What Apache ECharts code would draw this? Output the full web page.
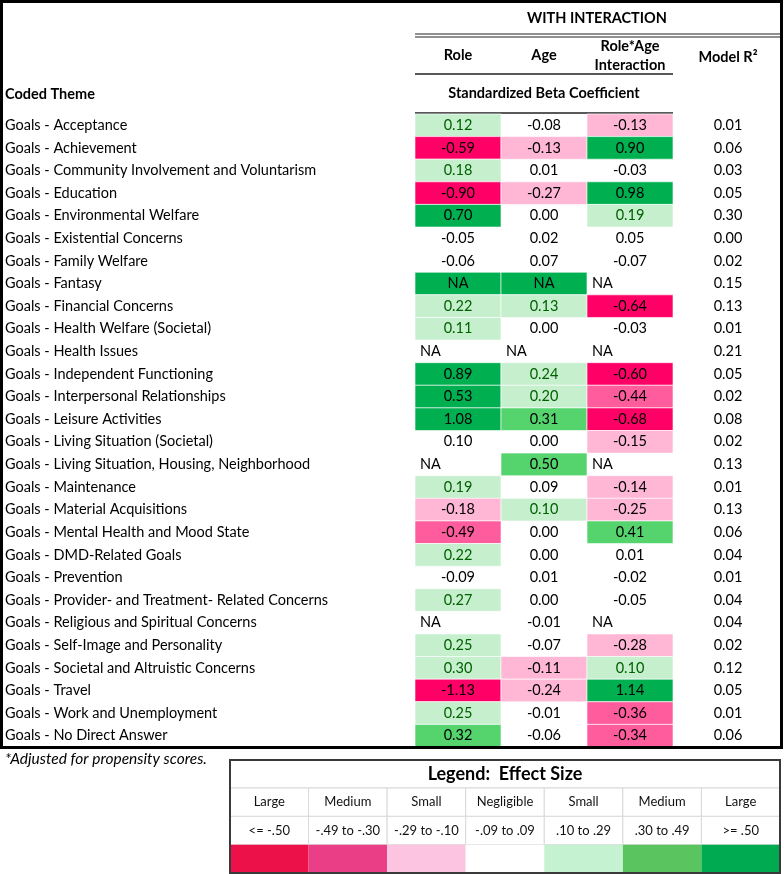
<!DOCTYPE html>
<html lang="en">
<head>
    <meta charset="UTF-8">
    <title>Coded Theme - Standardized Beta Coefficient</title>
    <script src="https://cdn.jsdelivr.net/npm/echarts@6/dist/echarts.min.js"></script>
    <style>
        html, body { margin: 0; padding: 0; background: #fff; }
        #chart { width: 784px; height: 874px; }
    </style>
</head>
<body>
<div id="chart"></div>
<script>
    // table rows
    var themes = [
        'Goals - Acceptance',
        'Goals - Achievement',
        'Goals - Community Involvement and Voluntarism',
        'Goals - Education',
        'Goals - Environmental Welfare',
        'Goals - Existential Concerns',
        'Goals - Family Welfare',
        'Goals - Fantasy',
        'Goals - Financial Concerns',
        'Goals - Health Welfare (Societal)',
        'Goals - Health Issues',
        'Goals - Independent Functioning',
        'Goals - Interpersonal Relationships',
        'Goals - Leisure Activities',
        'Goals - Living Situation (Societal)',
        'Goals - Living Situation, Housing, Neighborhood',
        'Goals - Maintenance',
        'Goals - Material Acquisitions',
        'Goals - Mental Health and Mood State',
        'Goals - DMD-Related Goals',
        'Goals - Prevention',
        'Goals - Provider- and Treatment- Related Concerns',
        'Goals - Religious and Spiritual Concerns',
        'Goals - Self-Image and Personality',
        'Goals - Societal and Altruistic Concerns',
        'Goals - Travel',
        'Goals - Work and Unemployment',
        'Goals - No Direct Answer'
    ];
    var betaColumns = ['Role', 'Age', 'Role*Age Interaction'];

    var roleBeta = [0.12, -0.59, 0.18, -0.90, 0.70, -0.05, -0.06, 'NA', 0.22, 0.11, 'NA', 0.89, 0.53, 1.08,
        0.10, 'NA', 0.19, -0.18, -0.49, 0.22, -0.09, 0.27, 'NA', 0.25, 0.30, -1.13, 0.25, 0.32];
    var ageBeta = [-0.08, -0.13, 0.01, -0.27, 0.00, 0.02, 0.07, 'NA', 0.13, 0.00, 'NA', 0.24, 0.20, 0.31,
        0.00, 0.50, 0.09, 0.10, 0.00, 0.00, 0.01, 0.00, -0.01, -0.07, -0.11, -0.24, -0.01, -0.06];
    var interactionBeta = [-0.13, 0.90, -0.03, 0.98, 0.19, 0.05, -0.07, 'NA', -0.64, -0.03, 'NA', -0.60, -0.44, -0.68,
        -0.15, 'NA', -0.14, -0.25, 0.41, 0.01, -0.02, -0.05, 'NA', -0.28, 0.10, 1.14, -0.36, -0.34];
    var modelR2 = [0.01, 0.06, 0.03, 0.05, 0.30, 0.00, 0.02, 0.15, 0.13, 0.01, 0.21, 0.05, 0.02, 0.08,
        0.02, 0.13, 0.01, 0.13, 0.06, 0.04, 0.01, 0.04, 0.04, 0.02, 0.12, 0.05, 0.01, 0.06];

    // shading used in the table: -3 large neg ... 0 none ... 3 large pos
    var roleShade = [1, -3, 1, -3, 3, 0, 0, 3, 1, 1, 0, 3, 3, 3, 0, 0, 1, -1, -2, 1, 0, 1, 0, 1, 1, -3, 1, 2];
    var ageShade = [0, -1, 0, -1, 0, 0, 0, 3, 1, 0, 0, 1, 1, 2, 0, 2, 0, 1, 0, 0, 0, 0, 0, 0, -1, -1, 0, 0];
    var interactionShade = [-1, 3, 0, 3, 1, 0, 0, 0, -3, 0, 0, -3, -2, -3, -1, 0, -1, -1, 2, 0, 0, 0, 0, -1, 1, 3, -2, -2];

    // legend
    var legendLabels = ['Large', 'Medium', 'Small', 'Negligible', 'Small', 'Medium', 'Large'];
    var legendRanges = ['<= -.50', '-.49 to -.30', '-.29 to -.10', '-.09 to .09', '.10 to .29', '.30 to .49', '>= .50'];
    var legendColors = ['#ec1249', '#ea3f86', '#fdc4e1', '#ffffff', '#c5f2d1', '#5ac55e', '#00aa50'];

    var shadeFill = {'-3': '#ff0066', '-2': '#ff5c9e', '-1': '#ffb7d5', '0': null, '1': '#c6efce', '2': '#55d46e', '3': '#00b050'};

    var FONT = 'Lato';
    var FS = 14.5;

    var chart = echarts.init(document.getElementById('chart'));

    // build cell lists
    var betaCells = [];
    [roleBeta, ageBeta, interactionBeta].forEach(function (col, ci) {
        var shades = [roleShade, ageShade, interactionShade][ci];
        for (var r = 0; r < col.length; r++) {
            betaCells.push({
                col: ci, row: r,
                text: col[r] === 'NA' ? 'NA' : col[r].toFixed(2),
                shade: shades[r]
            });
        }
    });
    var r2Cells = modelR2.map(function (v, r) { return {col: 0, row: r, text: v.toFixed(2)}; });

    var legendCells = [];
    for (var i = 0; i < legendLabels.length; i++) {
        legendCells.push({col: i, row: 0, text: legendLabels[i]});
        legendCells.push({col: i, row: 1, text: legendRanges[i]});
        legendCells.push({col: i, row: 2, fill: legendColors[i]});
    }

    function betaItem(params, api) {
        var cell = betaCells[params.dataIndex];
        var p = api.coord([api.value(0), api.value(1)]);
        var s = api.size([1, 1]);
        var fill = shadeFill[String(cell.shade)];
        // plain NA cells sit on the left, shaded ones are centred
        var leftNA = cell.text === 'NA' && !fill;
        var children = [];
        if (fill) {
            children.push({
                type: 'rect',
                shape: {x: p[0] - s[0] / 2, y: p[1] - s[1] / 2, width: s[0], height: s[1]},
                style: {fill: fill, stroke: '#ffffff', lineWidth: 0.6}
            });
        }
        children.push({
            type: 'text',
            style: {
                text: cell.text,
                x: leftNA ? p[0] - s[0] / 2 + 5 : p[0],
                y: p[1],
                align: leftNA ? 'left' : 'center',
                verticalAlign: 'middle',
                fill: cell.shade === 1 ? '#006100' : '#000000',
                font: FS + 'px ' + FONT
            }
        });
        return {type: 'group', children: children};
    }

    function r2Item(params, api) {
        var cell = r2Cells[params.dataIndex];
        var p = api.coord([api.value(0), api.value(1)]);
        return {
            type: 'text',
            style: {
                text: cell.text, x: p[0], y: p[1],
                align: 'center', verticalAlign: 'middle',
                fill: '#000', font: FS + 'px ' + FONT
            }
        };
    }

    function legendItem(params, api) {
        var cell = legendCells[params.dataIndex];
        var p = api.coord([api.value(0), api.value(1)]);
        var s = api.size([1, 1]);
        var box = {x: p[0] - s[0] / 2, y: p[1] - s[1] / 2, width: s[0], height: s[1]};
        if (cell.fill) {
            return {type: 'rect', shape: box, style: {fill: cell.fill}};
        }
        return {
            type: 'group',
            children: [
                {type: 'rect', shape: box, style: {fill: '#fff', stroke: '#d9d9d9', lineWidth: 1}},
                {
                    type: 'text',
                    style: {
                        text: cell.text, x: p[0], y: p[1],
                        align: 'center', verticalAlign: 'middle',
                        fill: '#111', font: '13px ' + FONT
                    }
                }
            ]
        };
    }

    var hidden = {show: false};

    var option = {
        animation: false,
        backgroundColor: '#ffffff',
        grid: [
            {left: 415, top: 114, width: 258, height: 633},
            {left: 673, top: 114, width: 110, height: 633},
            {left: 230, top: 788, width: 550, height: 85}
        ],
        xAxis: [
            {gridIndex: 0, type: 'category', data: betaColumns, axisLine: hidden, axisTick: hidden, axisLabel: hidden},
            {gridIndex: 1, type: 'category', data: ['Model R²'], axisLine: hidden, axisTick: hidden, axisLabel: hidden},
            {gridIndex: 2, type: 'category', data: legendLabels.map(function (l, i) { return i; }), axisLine: hidden, axisTick: hidden, axisLabel: hidden}
        ],
        yAxis: [
            {
                gridIndex: 0, type: 'category', data: themes, inverse: true,
                axisLine: hidden, axisTick: hidden, splitLine: hidden,
                axisLabel: {
                    show: true, interval: 0, align: 'left', margin: 410,
                    color: '#000', fontFamily: FONT, fontSize: FS
                }
            },
            {gridIndex: 1, type: 'category', data: themes, inverse: true, axisLine: hidden, axisTick: hidden, axisLabel: hidden},
            {gridIndex: 2, type: 'category', data: ['label', 'range', 'colour'], inverse: true, axisLine: hidden, axisTick: hidden, axisLabel: hidden}
        ],
        series: [
            {
                type: 'custom', xAxisIndex: 0, yAxisIndex: 0,
                renderItem: betaItem,
                data: betaCells.map(function (c) { return [c.col, c.row]; })
            },
            {
                type: 'custom', xAxisIndex: 1, yAxisIndex: 1,
                renderItem: r2Item,
                data: r2Cells.map(function (c) { return [c.col, c.row]; })
            },
            {
                type: 'custom', xAxisIndex: 2, yAxisIndex: 2,
                renderItem: legendItem,
                data: legendCells.map(function (c) { return [c.col, c.row]; })
            }
        ],
        graphic: [
            // outer frame of the table
            {type: 'rect', shape: {x: 1.5, y: 1.5, width: 780, height: 746}, style: {fill: 'none', stroke: '#000', lineWidth: 3}, z: 10},
            // header rules
            {type: 'line', shape: {x1: 415, y1: 34, x2: 781, y2: 34}, style: {stroke: '#222', lineWidth: 1.2}},
            {type: 'line', shape: {x1: 415, y1: 37, x2: 781, y2: 37}, style: {stroke: '#222', lineWidth: 1.2}},
            {type: 'line', shape: {x1: 415, y1: 74, x2: 673, y2: 74}, style: {stroke: '#222', lineWidth: 1.5}},
            {type: 'line', shape: {x1: 415, y1: 113, x2: 673, y2: 113}, style: {stroke: '#222', lineWidth: 1.5}},
            // header text
            {type: 'text', style: {text: 'WITH INTERACTION', x: 597, y: 18, align: 'center', verticalAlign: 'middle', font: 'bold ' + FS + 'px ' + FONT, fill: '#000'}},
            {type: 'text', style: {text: 'Role', x: 458, y: 55, align: 'center', verticalAlign: 'middle', font: 'bold ' + FS + 'px ' + FONT, fill: '#000'}},
            {type: 'text', style: {text: 'Age', x: 544, y: 55, align: 'center', verticalAlign: 'middle', font: 'bold ' + FS + 'px ' + FONT, fill: '#000'}},
            {type: 'text', style: {text: 'Role*Age', x: 630, y: 46, align: 'center', verticalAlign: 'middle', font: 'bold ' + FS + 'px ' + FONT, fill: '#000'}},
            {type: 'text', style: {text: 'Interaction', x: 630, y: 65, align: 'center', verticalAlign: 'middle', font: 'bold ' + FS + 'px ' + FONT, fill: '#000'}},
            {type: 'text', style: {text: 'Model R²', x: 728, y: 57, align: 'center', verticalAlign: 'middle', font: 'bold ' + FS + 'px ' + FONT, fill: '#000'}},
            {type: 'text', style: {text: 'Standardized Beta Coefficient', x: 544, y: 93, align: 'center', verticalAlign: 'middle', font: 'bold ' + FS + 'px ' + FONT, fill: '#000'}},
            {type: 'text', style: {text: 'Coded Theme', x: 5, y: 94, align: 'left', verticalAlign: 'middle', font: 'bold ' + FS + 'px ' + FONT, fill: '#000'}},
            // footnote
            {type: 'text', style: {text: '*Adjusted for propensity scores.', x: 5, y: 759, align: 'left', verticalAlign: 'middle', font: 'italic 15.5px ' + FONT, fill: '#000'}},
            // legend frame and title
            {type: 'line', shape: {x1: 230, y1: 788, x2: 780, y2: 788}, style: {stroke: '#d9d9d9', lineWidth: 1}},
            {type: 'text', style: {text: 'Legend:  Effect Size', x: 505, y: 774, align: 'center', verticalAlign: 'middle', font: 'bold 18px ' + FONT, fill: '#000'}},
            {type: 'rect', shape: {x: 230, y: 760, width: 550, height: 113}, style: {fill: 'none', stroke: '#3a3a3a', lineWidth: 2}, z: 10}
        ]
    };

    chart.setOption(option);
</script>
</body>
</html>
